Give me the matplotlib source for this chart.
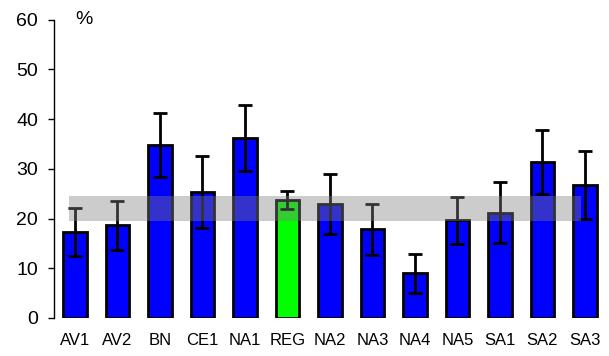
import numpy as np
import matplotlib
matplotlib.use("Agg")
from matplotlib import pyplot as plt

plt.rcParams['font.family'] = ['Liberation Sans', 'DejaVu Sans']

# sites and their mean share (%) with error
sites = ['AV1', 'AV2', 'BN', 'CE1', 'NA1', 'REG', 'NA2', 'NA3', 'NA4', 'NA5', 'SA1', 'SA2', 'SA3']
values = [17.3, 18.6, 34.8, 25.3, 36.2, 23.7, 22.9, 17.8, 9.0, 19.6, 21.2, 31.4, 26.7]
errors = [4.9, 4.9, 6.4, 7.2, 6.6, 1.8, 6.1, 5.2, 3.9, 4.8, 6.2, 6.4, 6.9]
colors = ['#00ff00' if s == 'REG' else '#0000ff' for s in sites]

# regional reference range
band_low, band_high = 19.5, 24.5

fig = plt.figure(figsize=(6.09, 3.56), dpi=100)
ax = fig.add_axes([54/609, 38/356, 551.7/609, 298.5/356])

x = np.arange(len(sites))
ax.bar(x, values, width=0.55, color=colors, edgecolor='black', linewidth=2, zorder=2)
ax.errorbar(x, values, yerr=errors, fmt='none', ecolor='black', elinewidth=2,
            capsize=5, capthick=2, zorder=3)

# shaded band over the bars
ax.fill_between([-0.14, 11.92], band_low, band_high, color='#808080', alpha=0.4,
                linewidth=0, zorder=4)

ax.set_xlim(-0.49, 12.49)
ax.set_ylim(0, 60)
ax.set_yticks(range(0, 61, 10))
ax.set_xticks(x)
ax.set_xticklabels(sites, fontsize=12)
ax.tick_params(axis='y', labelsize=14, length=4.5, width=1, pad=7)
ax.tick_params(axis='x', length=0, pad=11)

for s in ['top', 'right', 'bottom']:
    ax.spines[s].set_visible(False)
ax.spines['left'].set_linewidth(1)

ax.text(0.21, 60, '%', fontsize=14, ha='center', va='center')

fig.savefig('out.png', dpi=100)
